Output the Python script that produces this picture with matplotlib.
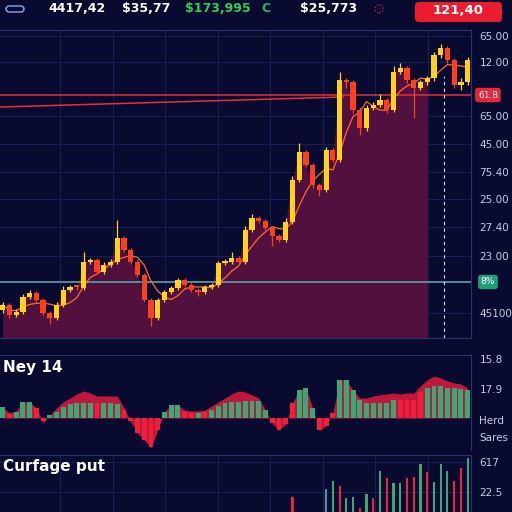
import numpy as np
import pandas as pd
import matplotlib
matplotlib.use('Agg')
from matplotlib import pyplot as plt
from matplotlib.patches import FancyBboxPatch, Circle
from matplotlib.transforms import blended_transform_factory

# --- data ---------------------------------------------------------------
opens = [28, 33, 23, 26, 41, 45, 38, 25, 20, 33,
         48, 51, 50, 76, 78, 66, 73, 76, 100, 88,
         76, 63, 38, 20, 38, 46, 50, 58, 53, 48,
         46, 51, 53, 75, 76, 80, 76, 108, 120, 117,
         110, 102, 98, 116, 158, 186, 173, 153, 148, 188,
         178, 258, 256, 228, 210, 230, 233, 238, 228, 266,
         270, 258, 250, 256, 260, 283, 290, 278, 253, 256]
closes = [33, 23, 26, 41, 45, 38, 25, 20, 33, 48,
          51, 50, 76, 78, 66, 73, 76, 100, 88, 76,
          63, 38, 20, 38, 46, 50, 58, 53, 48, 46,
          51, 53, 75, 76, 80, 76, 108, 120, 117, 110,
          102, 98, 116, 158, 186, 173, 153, 148, 188, 178,
          258, 256, 228, 210, 230, 233, 238, 228, 266, 270,
          258, 250, 256, 260, 283, 290, 278, 253, 256, 278]
highs = [36, 35, 29, 44, 48, 47, 40, 27, 36, 52,
         53, 53, 86, 80, 80, 76, 79, 118, 102, 90,
         78, 65, 40, 40, 48, 52, 60, 60, 55, 50,
         53, 55, 77, 79, 86, 82, 112, 124, 122, 119,
         112, 104, 120, 162, 195, 188, 175, 155, 191, 190,
         266, 260, 258, 231, 233, 236, 244, 240, 272, 275,
         272, 260, 258, 262, 286, 294, 292, 280, 260, 281]
lows = [25, 20, 21, 24, 39, 36, 23, 14, 18, 31,
        46, 48, 48, 74, 64, 64, 71, 74, 86, 74,
        61, 36, 12, 18, 36, 44, 48, 51, 46, 42,
        44, 49, 51, 73, 74, 74, 74, 106, 115, 108,
        92, 96, 96, 114, 156, 171, 150, 142, 146, 176,
        176, 250, 225, 203, 207, 228, 231, 225, 226, 264,
        255, 220, 248, 253, 257, 280, 275, 250, 248, 253]

resistance = 243
support = 56
trend_start, trend_end = 231, 241
price_ticks = [302, 276, 222, 194, 166, 139, 111, 82, 25]
price_labels = ['65.00', '12.00', '65.00', '45.00', '75.40',
                '25.00', '27.40', '23.00', '45100']

hist = [11, 4, 6, 16, 16, 10, -3, 3, 6, 11,
        14, 15, 15, 15, 15, 15, 15, 14, 8, -3,
        -15, -22, -29, -12, 6, 13, 13, 6, 5, 5,
        6, 8, 12, 15, 16, 16, 17, 17, 17, 8,
        -5, -12, -6, 15, 28, 30, 10, -12, -8, 5,
        38, 38, 28, 18, 15, 15, 15, 15, 18, 18,
        18, 18, 26, 30, 32, 32, 30, 30, 29, 28]
hist_sig = list('grggg' 'rrggg' 'gggg' 'rggg' 'rr'
                'rrrr' 'gg' 'grrg' 'rg'
                'gggg' 'gggg' 'rr'
                'rrg' 'ggrrrg'
                'gggg' 'ggggr' 'rrrgg' 'gggggr')
envelope = [11, 5, 7, 16, 16, 10, -5, 3, 10, 16,
            20, 24, 27, 25, 22, 22, 22, 22, 10, -3,
            -15, -22, -30, -12, 6, 13, 13, 8, 7, 7,
            8, 12, 16, 20, 24, 27, 26, 23, 20, 8,
            -5, -12, -6, 15, 28, 30, 10, -12, -8, 5,
            38, 38, 28, 20, 20, 22, 23, 24, 25, 24,
            25, 25, 32, 38, 42, 40, 37, 35, 34, 30]
osc_ticks = [59, 29, -2, -19]
osc_labels = ['15.8', '17.9', 'Herd', 'Sares']

vol_idx = [43, 48, 49, 50, 51, 52, 53, 54, 55, 56, 57, 58,
           59, 60, 61, 62, 63, 64, 65, 66, 67, 68, 69]
vol = [33, 41, 49, 44, 32, 33, 22, 36, 32, 59, 52, 47,
       47, 52, 53, 66, 58, 48, 66, 59, 49, 62, 72]
vol_sig = list('rtgrggrgrgrggrrgrgggrrg')
vol_ticks = [68, 38]
vol_labels = ['617', '22.5']

# --- style --------------------------------------------------------------
BG = '#080a30'
GRID = '#18205a'
LBL = '#c8cbe2'
UP, DN = '#ffd21c', '#ff3d1f'
SIG = {'g': '#3aa874', 'r': '#f0203c', 't': '#3f9f9a'}

x = np.arange(len(closes))
xl = (-0.4, 69.5)

fig = plt.figure(figsize=(5.12, 5.12), dpi=100, facecolor=BG)


def base_axes(rect):
    a = fig.add_axes(rect)
    a.set_facecolor(BG)
    a.set_xlim(*xl)
    for s in a.spines.values():
        s.set_color('#2a3270')
        s.set_linewidth(0.8)
    a.spines['left'].set_visible(False)
    a.yaxis.tick_right()
    a.tick_params(length=0, labelsize=7.5, labelcolor=LBL, pad=6)
    a.set_xticks(np.arange(8.5, 70, 7.8))
    a.set_xticklabels([])
    a.grid(True, color=GRID, lw=0.7)
    a.set_axisbelow(True)
    return a


# main price panel
ax = base_axes([0, 174 / 512, 471 / 512, 308 / 512])
ax.set_ylim(0, 308)
ax.set_yticks(price_ticks)
ax.set_yticklabels(price_labels)

ax.fill_between(x[:64], 0, closes[:64], color='#52103e', lw=0, zorder=1)
ma = pd.Series(closes).rolling(5, min_periods=1).mean()
ax.plot(x, ma, color='#ff6a2a', lw=0.9, zorder=3)

ax.plot([x[0] - 0.4, 50.5], [trend_start, trend_end], color='#e5303c', lw=1.1, zorder=2)
ax.axhline(resistance, color='#e5303c', lw=1.1, zorder=2)
ax.axhline(support, color='#5aa3a6', lw=1.2, zorder=2)
ax.vlines(65.5, 0, 262, colors='#d8dcf0', lw=0.8, linestyles=(0, (3, 3)), zorder=4)

col = [UP if c >= o else DN for o, c in zip(opens, closes)]
ax.vlines(x, lows, highs, colors=col, lw=0.9, zorder=4)
body = np.array(closes) - np.array(opens)
body = np.where(np.abs(body) < 2, 2, body)
ax.bar(x, body, bottom=opens, width=0.78, color=col, lw=0, zorder=5)

tr = blended_transform_factory(ax.transAxes, ax.transData)
ax.text(1.036, resistance, '61.8', transform=tr, ha='center', va='center',
        fontsize=6.5, color='white',
        bbox=dict(boxstyle='round,pad=0.3', fc='#e8263a', ec='none'))
ax.text(1.036, support, '8%', transform=tr, ha='center', va='center',
        fontsize=6.5, color='white',
        bbox=dict(boxstyle='round,pad=0.3', fc='#1f9c78', ec='none'))

# oscillator panel
ax2 = base_axes([0, 62 / 512, 471 / 512, 95 / 512])
ax2.set_ylim(-32, 63)
ax2.set_yticks(osc_ticks)
ax2.set_yticklabels(osc_labels)
ax2.spines['bottom'].set_visible(False)
ax2.grid(False)
ax2.fill_between(x, 0, envelope, color='#c0183c', lw=0, zorder=1)
ax2.bar(x, hist, width=0.72, color=[SIG[s] for s in hist_sig], lw=0, zorder=2)
ax2.text(0.006, 0.87, 'Ney 14', transform=ax2.transAxes, color='white',
         fontsize=11, fontweight='bold', va='center')

# volume panel
ax3 = base_axes([0, 0, 471 / 512, 57 / 512])
ax3.set_ylim(18, 75)
ax3.set_yticks(vol_ticks)
ax3.set_yticklabels(vol_labels)
ax3.spines['bottom'].set_visible(False)
ax3.bar(vol_idx, vol, width=0.32, color=[SIG[s] for s in vol_sig], lw=0, zorder=2)
ax3.text(0.006, 0.79, 'Curfage put', transform=ax3.transAxes, color='white',
         fontsize=11, fontweight='bold', va='center')

# top ticker bar
ty = 1 - 9 / 512
fig.patches.append(FancyBboxPatch((6 / 512, 1 - 12 / 512), 18 / 512, 6 / 512,
                                  boxstyle='round,pad=0,rounding_size=0.006',
                                  transform=fig.transFigure, fc='none',
                                  ec='#8fa6ff', lw=1.0))
for txt, xp, c in [('4417,42', 77, 'white'), ('$35,77', 146, 'white'),
                   ('$173,995', 218, '#2ecc55'), ('C', 266, '#27b06a'),
                   ('$25,773', 329, 'white')]:
    fig.text(xp / 512, ty, txt, ha='center', va='center', color=c,
             fontsize=9, fontweight='bold')
fig.patches.append(Circle((379 / 512, ty), 4 / 512, transform=fig.transFigure,
                          fc='none', ec='#e8263a', lw=0.9, ls=':'))
fig.patches.append(FancyBboxPatch((415 / 512, 1 - 22 / 512), 87 / 512, 20 / 512,
                                  boxstyle='round,pad=0,rounding_size=0.008',
                                  transform=fig.transFigure, fc='#ec1c2e', ec='none'))
fig.text(458 / 512, 1 - 10 / 512, '121,40', ha='center', va='center', color='white',
         fontsize=9.5, fontweight='bold')

plt.savefig('out.png', dpi=100, facecolor=BG)
